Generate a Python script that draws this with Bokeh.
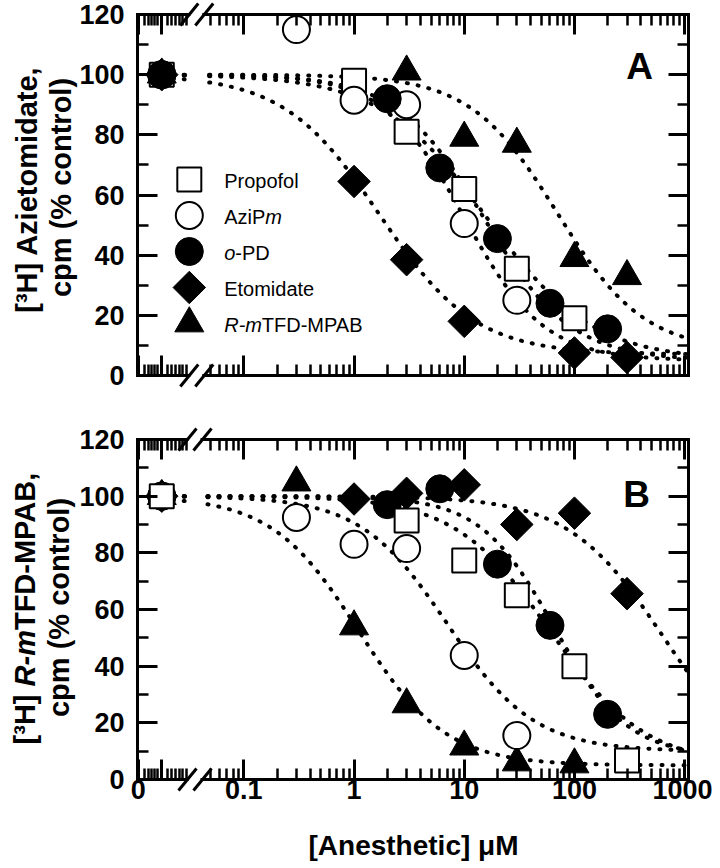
import numpy as np
from bokeh.plotting import figure
from bokeh.models import FixedTicker, LinearAxis, LogAxis, CustomJSTickFormatter, Range1d
from bokeh.layouts import column
from bokeh.embed import file_html
from bokeh.resources import INLINE
from bokeh.core.properties import value

# ---------------- data ----------------
SERIES = ["Propofol", "AziPm", "o-PD", "Etomidate", "R-mTFD-MPAB"]
CONTROL_VALUE = 100.0
X_CONTROL = 0.018          # place on the broken axis that stands for 0 uM

# Panel A : [3H] Azietomidate
A_PROPOFOL_X = [1, 3, 10, 30, 100]
A_PROPOFOL_Y = [98, 81, 62, 35.5, 19]
A_AZIPM_X = [0.3, 1, 3, 10, 30]
A_AZIPM_Y = [115, 91.5, 90, 50.5, 25]
A_OPD_X = [2, 6, 20, 60, 200]
A_OPD_Y = [92, 69, 45.5, 24, 15.5]
A_ETOMIDATE_X = [1, 3, 10, 100, 300]
A_ETOMIDATE_Y = [64.5, 38.5, 18, 7.5, 6]
A_RMTFD_X = [3, 10, 30, 100, 300]
A_RMTFD_Y = [101, 79, 77, 39, 33]

# Panel B : [3H] R-mTFD-MPAB
B_PROPOFOL_X = [3, 10, 30, 100, 300]
B_PROPOFOL_Y = [91.4, 77.3, 65, 40, 6.7]
B_AZIPM_X = [0.3, 1, 3, 10, 30]
B_AZIPM_Y = [92.5, 83, 81.5, 43.8, 15.5]
B_OPD_X = [2, 6, 20, 60, 200]
B_OPD_Y = [97, 102.6, 76, 54.4, 23]
B_ETOMIDATE_X = [1, 3, 10, 30, 100, 300]
B_ETOMIDATE_Y = [99, 101, 104, 90, 94, 65.6]
B_RMTFD_X = [0.3, 1, 3, 10, 30, 100]
B_RMTFD_Y = [104.8, 54, 26.5, 11.6, 6, 5.3]

# fitted inhibition curves (order = SERIES)
A_FIT_IC50 = [15, 10, 16, 1.7, 70]
A_FIT_HILL = [1.1, 1.2, 0.9, 1.0, 1.1]
A_FIT_BOTTOM = [5, 5, 5, 7, 8]
B_FIT_IC50 = [60, 7, 65, 650, 1.1]
B_FIT_HILL = [1.0, 1.1, 1.3, 1.0, 1.1]
B_FIT_BOTTOM = [5, 10, 8, 0, 5]

# axes
X_TICKS = [0.011, X_CONTROL, 0.1, 1, 10, 100, 1000]
X_TICK_LABELS = ["0", "", "0.1", "1", "10", "100", "1000"]
X_MINOR_TICKS = [0.0125, 0.0135, 0.0145, 0.0155, 0.0165, 0.0205, 0.022, 0.024, 0.026, 0.028, 0.03,
                 0.05, 0.06, 0.07, 0.08, 0.09,
                 0.2, 0.3, 0.4, 0.5, 0.6, 0.7, 0.8, 0.9,
                 2, 3, 4, 5, 6, 7, 8, 9,
                 20, 30, 40, 50, 60, 70, 80, 90,
                 200, 300, 400, 500, 600, 700, 800, 900]
Y_TICKS = [0, 20, 40, 60, 80, 100, 120]
Y_MINOR_TICKS = [10, 30, 50, 70, 90, 110]

# ---------------- layout / style ----------------
FONT = "Liberation Sans"
XLOG = (-1.965, 3.035)
Y_MAX = 120
PAGE_W = 712
A_TOP, A_H = 0, 416
B_TOP, B_H = 416, 452
A_FRAME = (135, 688, 14, 375)   # picture px: left, right, top, bottom
B_FRAME = (137, 688, 439, 779)

MARKERS = ["square", "circle", "circle", "square", "triangle"]
FILLS = ["white", "white", "black", "black", "black"]
SIZES = [24, 27, 28, 23, 29]
ANGLES = [0, 0, 0, np.pi / 4, 0]
LWS = [2, 2, 1, 1, 1]

BOLD_W = {'[': 333, '³': 333, 'H': 722, ']': 333, ' ': 278, 'R': 722, '-': 333, 'm': 889,
          'T': 611, 'F': 611, 'D': 722, 'M': 833, 'P': 667, 'A': 722, 'B': 722, ',': 278}
REG_W = {'A': 667, 'z': 500, 'i': 222, 'P': 667, 'm': 833, 'o': 556, 'R': 722, '-': 333,
         'D': 722, 'T': 611, 'F': 611, 'M': 833, 'B': 667}


def tw(s, size, table):
    return sum(table[c] for c in s) / 1000.0 * size


class Mapper:
    def __init__(self, frame):
        self.l, self.r, self.t, self.b = frame

    def x(self, px):
        return 10 ** (XLOG[0] + (px - self.l) / (self.r - self.l) * (XLOG[1] - XLOG[0]))

    def y(self, py):
        return Y_MAX * (self.b - py) / (self.b - self.t)


def style_axis(ax, ticks, minor, labels_on, formatter=None):
    ax.ticker = FixedTicker(ticks=ticks, minor_ticks=minor)
    ax.axis_line_width = 3
    ax.axis_line_color = "black"
    ax.axis_line_cap = "square"
    ax.major_tick_in = 20
    ax.major_tick_out = 0
    ax.minor_tick_in = 11
    ax.minor_tick_out = 0
    ax.major_tick_line_width = 3
    ax.minor_tick_line_width = 2.5
    ax.major_tick_line_color = "black"
    ax.minor_tick_line_color = "black"
    ax.major_label_text_font = FONT
    ax.major_label_text_font_style = "bold"
    ax.major_label_text_color = "black"
    if labels_on:
        ax.major_label_text_font_size = "27px"
        if formatter is not None:
            ax.formatter = formatter
    else:
        ax.major_label_text_font_size = "0px"
        ax.major_label_standoff = 0
        ax.formatter = CustomJSTickFormatter(code="return '';")


def x_formatter():
    return CustomJSTickFormatter(args=dict(vals=X_TICKS, labs=X_TICK_LABELS), code="""
        let best = -1, bd = 1e9;
        for (let i = 0; i < vals.length; i++) {
            const d = Math.abs(Math.log10(vals[i]) - Math.log10(tick));
            if (d < bd) { bd = d; best = i; }
        }
        return bd < 1e-6 ? labs[best] : "";
    """)


def hill(x, bottom, ic50, n):
    return bottom + (CONTROL_VALUE - bottom) / (1.0 + (x / ic50) ** n)


def make_panel(height, top_page, frame, xs, ys, fit, order, show_xlabels):
    l, r, t, b = frame
    m = Mapper(frame)
    p = figure(width=PAGE_W, height=height, x_axis_type="log",
               x_range=Range1d(10 ** XLOG[0], 10 ** XLOG[1]), y_range=Range1d(0, Y_MAX),
               output_backend="svg", toolbar_location=None,
               min_border_left=l, min_border_right=PAGE_W - r,
               min_border_top=t - top_page, min_border_bottom=height - (b - top_page))
    p.xgrid.visible = False
    p.ygrid.visible = False
    p.outline_line_color = None
    p.background_fill_color = "white"
    p.border_fill_color = "white"

    style_axis(p.below[0], X_TICKS, X_MINOR_TICKS, show_xlabels, x_formatter())
    p.below[0].major_label_standoff = 0
    style_axis(p.left[0], Y_TICKS, Y_MINOR_TICKS, True)
    p.left[0].major_label_standoff = 13
    top_ax = LogAxis()
    style_axis(top_ax, X_TICKS, X_MINOR_TICKS, False)
    p.add_layout(top_ax, "above")
    right_ax = LinearAxis()
    style_axis(right_ax, Y_TICKS, Y_MINOR_TICKS, False)
    p.add_layout(right_ax, "right")

    # fitted curves (dotted), split by the axis break
    ic50s, hills, bottoms = fit
    xl = np.logspace(np.log10(X_CONTROL), np.log10(m.x(186)), 12)
    xr = np.logspace(np.log10(m.x(207)), XLOG[1], 300)
    for i in range(len(SERIES)):
        for xx in (xl, xr):
            p.line(xx, hill(xx, bottoms[i], ic50s[i], hills[i]), line_color="black",
                   line_width=4, line_dash="1 10", line_cap="round")

    # data points, control point at "0"
    for i in order:
        px = [X_CONTROL] + list(xs[i])
        py = [CONTROL_VALUE] + list(ys[i])
        p.scatter(px, py, marker=MARKERS[i], size=SIZES[i], angle=ANGLES[i],
                  fill_color=FILLS[i], line_color="black", line_width=LWS[i])

    # axis break marks (white gap + double slash)
    for cy in (t, b):
        p.quad(left=[m.x(188)], right=[m.x(200)], bottom=[m.y(cy + 4)], top=[m.y(cy - 4)],
               fill_color="white", line_color=None, level="overlay")
    for cy in (t, b):
        for cx in (187, 202):
            p.segment(x0=[m.x(cx - 9)], y0=[m.y(cy + 11)], x1=[m.x(cx + 9)], y1=[m.y(cy - 11)],
                      line_color="black", line_width=3, level="overlay")
    return p, m


def add_text(p, x, y, text, size, style="bold", align="center", baseline="middle", angle=0.0):
    p.text(x=[x], y=[y], text=[text], text_font=value(FONT), text_font_size=value(size),
           text_font_style=value(style), text_align=value(align),
           text_baseline=value(baseline), angle=angle, text_color="black", level="overlay")


# ---------------- panel A ----------------
A_XS = [A_PROPOFOL_X, A_AZIPM_X, A_OPD_X, A_ETOMIDATE_X, A_RMTFD_X]
A_YS = [A_PROPOFOL_Y, A_AZIPM_Y, A_OPD_Y, A_ETOMIDATE_Y, A_RMTFD_Y]
pA, mA = make_panel(A_H, A_TOP, A_FRAME, A_XS, A_YS, (A_FIT_IC50, A_FIT_HILL, A_FIT_BOTTOM),
                    [0, 1, 2, 3, 4], False)

add_text(pA, mA.x(24), mA.y(189), "[³H] Azietomidate,", "29px", angle=np.pi / 2)
add_text(pA, mA.x(58), mA.y(187), "cpm (% control)", "29px", angle=np.pi / 2)
add_text(pA, mA.x(639), mA.y(66), "A", "37px")

# legend
LEG_ROWS = [179, 215, 251, 287, 323]
LEG_TEXT = [[("Propofol", "normal")], [("AziP", "normal"), ("m", "italic")],
            [("o", "italic"), ("-PD", "normal")], [("Etomidate", "normal")],
            [("R-m", "italic"), ("TFD-MPAB", "normal")]]
for i in range(len(SERIES)):
    pA.scatter([mA.x(187)], [mA.y(LEG_ROWS[i])], marker=MARKERS[i], size=SIZES[i], angle=ANGLES[i],
               fill_color=FILLS[i], line_color="black", line_width=LWS[i])
    cx = 222.0
    for k, (txt, st) in enumerate(LEG_TEXT[i]):
        add_text(pA, mA.x(cx), mA.y(LEG_ROWS[i] + 1), txt, "20px", style=st, align="left")
        if k < len(LEG_TEXT[i]) - 1:
            cx += tw(txt, 20, REG_W)

# ---------------- panel B ----------------
B_XS = [B_PROPOFOL_X, B_AZIPM_X, B_OPD_X, B_ETOMIDATE_X, B_RMTFD_X]
B_YS = [B_PROPOFOL_Y, B_AZIPM_Y, B_OPD_Y, B_ETOMIDATE_Y, B_RMTFD_Y]
pB, mB = make_panel(B_H, B_TOP, B_FRAME, B_XS, B_YS, (B_FIT_IC50, B_FIT_HILL, B_FIT_BOTTOM),
                    [4, 3, 2, 1, 0], True)

pieces = [("[³H] ", "bold"), ("R-m", "bold italic"), ("TFD-MPAB,", "bold")]
total = sum(tw(s, 29, BOLD_W) for s, _ in pieces)
start = 607 + total / 2
for s, st in pieces:
    add_text(pB, mB.x(24), mB.y(start), s, "29px", style=st, align="left", angle=np.pi / 2)
    start -= tw(s, 29, BOLD_W)
add_text(pB, mB.x(58), mB.y(607), "cpm (% control)", "29px", angle=np.pi / 2)
add_text(pB, mB.x(636), mB.y(494), "B", "37px")
add_text(pB, mB.x(413), mB.y(845), "[Anesthetic] μM", "28px", baseline="middle")

layout = column(pA, pB, spacing=0)
open("out.html", "w").write(file_html(layout, INLINE))
